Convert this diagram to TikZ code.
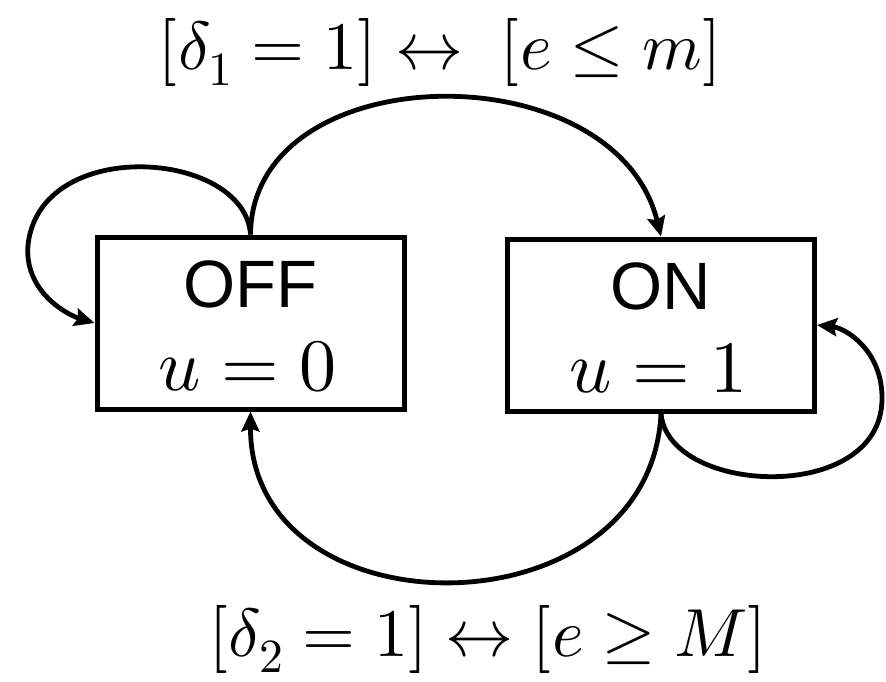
\documentclass[tikz,border=0pt]{standalone}
\usepackage{fontspec}
\usepackage{unicode-math}
\newfontfamily\sansf{Liberation Sans}
\usetikzlibrary{arrows.meta}
\begin{document}
\begin{tikzpicture}[x=1pt,y=-1pt,
  statebox/.style={draw, line width=5pt, rectangle, inner sep=0pt},
  conn/.style={line width=4.8pt},
  arr/.style={conn, -{Stealth[length=20pt,width=18pt,inset=3pt]}},
  sname/.style={anchor=base, inner sep=0pt, font=\sansf\fontsize{67}{70}\selectfont},
  svar/.style={anchor=base, inner sep=0pt, font=\fontsize{74}{78}\selectfont},
  cond/.style={anchor=base, inner sep=0pt, font=\fontsize{68}{72}\selectfont}]
\useasboundingbox (0,0) rectangle (886,681);
\fill[white] (0,0) rectangle (886,681);
% boxes
\node[statebox, minimum width=307pt, minimum height=172pt] (off) at (250.5,323) {};
\node[statebox, minimum width=307pt, minimum height=172pt] (on) at (661,325) {};
% texts
\node[sname] (offname) at (250.5,307) {OFF};
\node[sname] (onname) at (661,309) {ON};
\node[svar] (offvar) at (248,390) {$u=0$};
\node[svar] (onvar) at (659,392) {$u=1$};
\node[cond] (c1) at (440,69) {$[\delta_1=1]\leftrightarrow\;[e\leq m]$};
\node[cond] (c2) at (488,656) {$[\delta_2=1]\leftrightarrow[e\geq M]$};
% connectors
\draw[arr] (off.north) .. controls (245,150) and (40,135) .. (28,245)
           .. controls (24,290) and (65,314) .. (off.west);
\draw[arr] (off.north) .. controls (252,55) and (615,50) .. (on.north);
\draw[arr] (on.south) .. controls (668,495) and (880,505) .. (882,400)
           .. controls (883,350) and (845,328) .. (on.east);
\draw[arr] (on.south) .. controls (650,637) and (250,637) .. (off.south);
\end{tikzpicture}
\end{document}
